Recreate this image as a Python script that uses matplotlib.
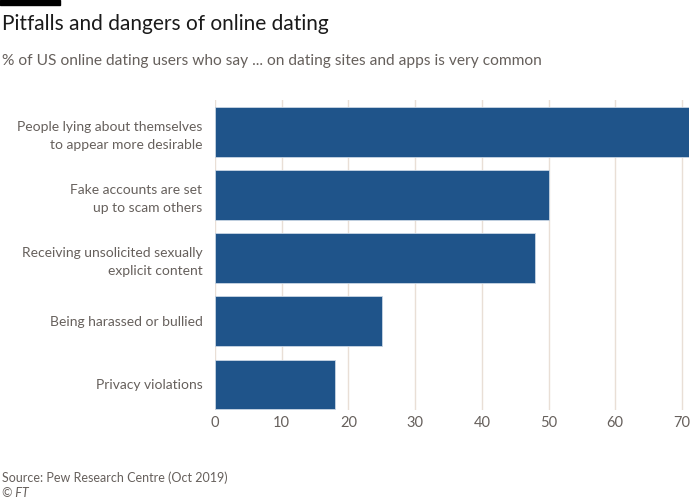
import matplotlib.pyplot as plt
from matplotlib.patches import Rectangle

# data
categories = [
    "People lying about themselves\nto appear more desirable",
    "Fake accounts are set\nup to scam others",
    "Receiving unsolicited sexually\nexplicit content",
    "Being harassed or bullied",
    "Privacy violations",
]
values = [71, 50, 48, 25, 18]
xticks = [0, 10, 20, 30, 40, 50, 60, 70]

bar_color = "#1f548a"
grid_color = "#e9dfd6"
text_color = "#66605c"

plt.rcParams["font.family"] = ["Lato", "DejaVu Sans"]

fig = plt.figure(figsize=(7, 5), dpi=100)
fig.patch.set_facecolor("white")
ax = fig.add_axes([215 / 700, 0.18, (688.6 - 215) / 700, 0.62])

ypos = list(range(len(categories)))
ax.barh(ypos, values, height=0.79, color=bar_color, edgecolor="#c9d6e4", linewidth=0.6, zorder=2)

ax.set_xlim(0, 71)
ax.set_ylim(4.405, -0.508)
ax.set_xticks(xticks)
ax.set_xticklabels([str(t) for t in xticks], fontsize=10.5, color=text_color)
ax.set_yticks(ypos)
ax.set_yticklabels(categories, fontsize=10, color=text_color, linespacing=1.55)
ax.tick_params(axis="both", length=0)
ax.tick_params(axis="y", pad=9)
ax.tick_params(axis="x", pad=4)
ax.grid(axis="x", color=grid_color, linewidth=1, zorder=0)
for s in ax.spines.values():
    s.set_visible(False)

# header
fig.add_artist(Rectangle((0, 1 - 5 / 500), 60 / 700, 5 / 500, color="black", transform=fig.transFigure))
fig.text(0.003, 0.952, "Pitfalls and dangers of online dating", fontsize=15, color="#1a1a1a", va="center")
fig.text(0.003, 0.878, "% of US online dating users who say ... on dating sites and apps is very common",
         fontsize=11.2, color=text_color, va="center")

# footer
fig.text(0.003, 0.044, "Source: Pew Research Centre (Oct 2019)", fontsize=9, color=text_color, va="center")
fig.text(0.003, 0.014, "© FT", fontsize=9, color=text_color, va="center", style="italic")

fig.savefig("out.png", dpi=100, facecolor="white")
